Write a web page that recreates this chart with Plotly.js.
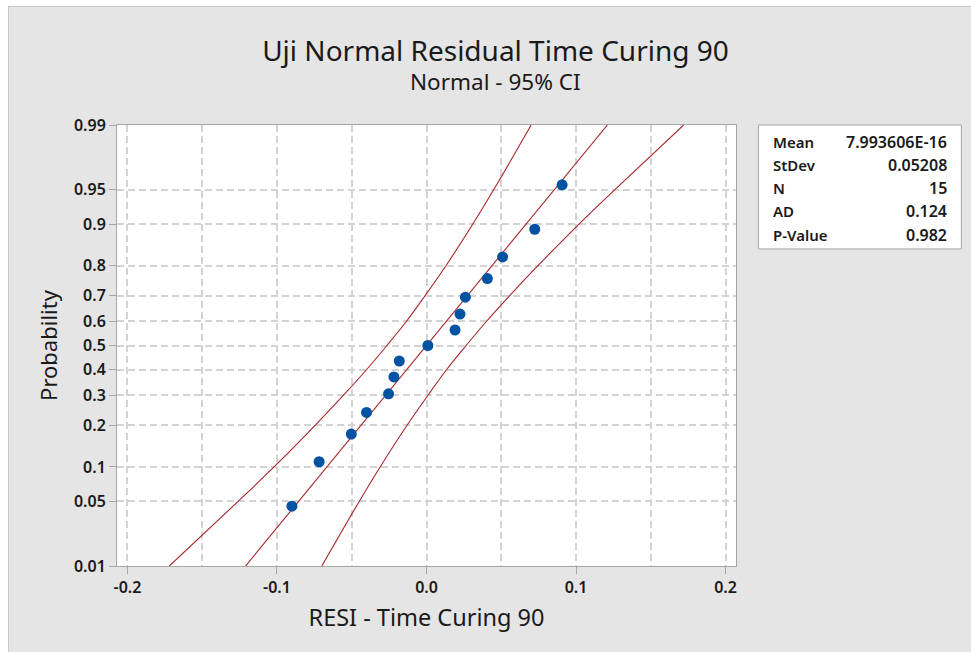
<!DOCTYPE html>
<html>
<head>
<meta charset="utf-8">
<script src="https://cdn.plot.ly/plotly-3.0.1.min.js"></script>
<style>
html, body { margin:0; padding:0; background:#ffffff; }
#chart { position:absolute; left:8px; top:6px; width:962px; height:645px;
         border-left:1px solid #c8c8c8; border-top:1px solid #c8c8c8; }
</style>
</head>
<body>
<div id="chart"></div>
<script>
// ---- data ----
const residuals = [-0.0900, -0.0718, -0.0503, -0.0401, -0.0254, -0.0218, -0.0182, 0.0009,
                   0.0191, 0.0224, 0.0260, 0.0407, 0.0509, 0.0724, 0.0907];
const percentProb = [0.045, 0.110, 0.175, 0.240, 0.305, 0.370, 0.435, 0.500,
                     0.565, 0.630, 0.695, 0.760, 0.825, 0.890, 0.955];

const bandProb = [0.01, 0.05, 0.1, 0.2, 0.3, 0.4, 0.5, 0.6, 0.7, 0.8, 0.9, 0.95, 0.99];
const lowerCI = [-0.172, -0.126, -0.102, -0.0745, -0.0555, -0.040, -0.0265, -0.0135, -0.001, 0.013, 0.031, 0.045, 0.070];
const fitLine = [-0.121, -0.0855, -0.0667, -0.0438, -0.0273, -0.0132, 0.0, 0.0132, 0.0273, 0.0438, 0.0667, 0.0855, 0.121];
const upperCI = [-0.070, -0.045, -0.031, -0.013, 0.001, 0.0135, 0.0265, 0.040, 0.0555, 0.0745, 0.102, 0.126, 0.172];

const yTickProb = [0.01, 0.05, 0.1, 0.2, 0.3, 0.4, 0.5, 0.6, 0.7, 0.8, 0.9, 0.95, 0.99];
const yTickText = ['0.01', '0.05', '0.1', '0.2', '0.3', '0.4', '0.5', '0.6', '0.7', '0.8', '0.9', '0.95', '0.99'];

const statNames = ['Mean', 'StDev', 'N', 'AD', 'P-Value'];
const statValues = ['7.993606E-16', '0.05208', '15', '0.124', '0.982'];

// ---- normal probability scale (inverse normal CDF, Acklam) ----
function probit(p) {
  const a = [-3.969683028665376e+01, 2.209460984245205e+02, -2.759285104469687e+02,
             1.383577518672690e+02, -3.066479806614716e+01, 2.506628277459239e+00];
  const b = [-5.447609879822406e+01, 1.615858368580409e+02, -1.556989798598866e+02,
             6.680131188771972e+01, -1.328068155288572e+01];
  const c = [-7.784894002430293e-03, -3.223964580411365e-01, -2.400758277161838e+00,
             -2.549671010229838e+00, 4.374664141464968e+00, 2.938163982698783e+00];
  const d = [7.784695709041462e-03, 3.224671290700398e-01, 2.445134137142996e+00,
             3.754408661907416e+00];
  const pl = 0.02425, ph = 1 - pl;
  let q, r;
  if (p < pl) {
    q = Math.sqrt(-2 * Math.log(p));
    return (((((c[0]*q+c[1])*q+c[2])*q+c[3])*q+c[4])*q+c[5]) / ((((d[0]*q+d[1])*q+d[2])*q+d[3])*q+1);
  } else if (p <= ph) {
    q = p - 0.5; r = q*q;
    return (((((a[0]*r+a[1])*r+a[2])*r+a[3])*r+a[4])*r+a[5])*q / (((((b[0]*r+b[1])*r+b[2])*r+b[3])*r+b[4])*r+1);
  } else {
    q = Math.sqrt(-2 * Math.log(1 - p));
    return -(((((c[0]*q+c[1])*q+c[2])*q+c[3])*q+c[4])*q+c[5]) / ((((d[0]*q+d[1])*q+d[2])*q+d[3])*q+1);
  }
}

const FONT = 'Noto Sans, Open Sans, DejaVu Sans, sans-serif';
const lineColor = '#a8262a';
const gridColor = '#d3d3d3';
const axisColor = '#a6a6a6';
const textColor = '#1a1a1a';

const bandZ = bandProb.map(probit);

const traces = [
  { x: lowerCI, y: bandZ, type: 'scatter', mode: 'lines', line: { color: lineColor, width: 1.1, shape: 'spline', smoothing: 1 }, hoverinfo: 'skip', showlegend: false },
  { x: fitLine, y: bandZ, type: 'scatter', mode: 'lines', line: { color: lineColor, width: 1.1 }, hoverinfo: 'skip', showlegend: false },
  { x: upperCI, y: bandZ, type: 'scatter', mode: 'lines', line: { color: lineColor, width: 1.1, shape: 'spline', smoothing: 1 }, hoverinfo: 'skip', showlegend: false },
  { x: residuals, y: percentProb.map(probit), type: 'scatter', mode: 'markers',
    marker: { color: '#0052a3', size: 11 }, showlegend: false }
];

// stats box
const boxLeft = 1.0362, boxRight = 1.3641, boxTop = 1.0, boxBottom = 0.719;
const rowY = [0.9619, 0.9094, 0.8568, 0.8043, 0.7515];
const annotations = [
  { text: 'Normal - 95% CI', xref: 'paper', yref: 'paper', x: 0.612, y: 1.098,
    xanchor: 'center', yanchor: 'middle', showarrow: false,
    font: { family: FONT, size: 22.5, color: textColor } }
];
statNames.forEach((n, i) => {
  annotations.push({ text: n, xref: 'paper', yref: 'paper', x: 1.0572, y: rowY[i],
    xanchor: 'left', yanchor: 'middle', showarrow: false,
    font: { family: FONT, size: 15, color: textColor, weight: 600 } });
  annotations.push({ text: statValues[i], xref: 'paper', yref: 'paper', x: 1.3436, y: rowY[i],
    xanchor: 'right', yanchor: 'middle', showarrow: false,
    font: { family: FONT, size: 16, color: textColor, weight: 600 } });
});

const layout = {
  width: 962, height: 645,
  paper_bgcolor: '#e5e5e5', plot_bgcolor: '#ffffff',
  margin: { l: 108, r: 235, t: 118, b: 86 },
  font: { family: FONT, color: textColor },
  title: { text: 'Uji Normal Residual Time Curing 90', xref: 'container', yref: 'container',
           x: 0.5057, y: 0.932, xanchor: 'center', yanchor: 'middle',
           font: { family: FONT, size: 28, color: textColor } },
  xaxis: {
    range: [-0.207, 0.207], tickvals: [-0.2, -0.1, 0, 0.1, 0.2],
    ticktext: ['-0.2', '-0.1', '0.0', '0.1', '0.2'],
    ticks: 'outside', ticklen: 7, tickcolor: axisColor, tickwidth: 1,
    showline: true, linecolor: axisColor, linewidth: 1, mirror: true,
    showgrid: true, gridcolor: gridColor, griddash: '7px,4px', gridwidth: 2,
    minor: { dtick: 0.05, tick0: 0, showgrid: true, gridcolor: gridColor, griddash: '7px,4px', gridwidth: 2, ticks: '' },
    zeroline: false,
    tickfont: { family: FONT, size: 16, color: textColor, weight: 600 },
    title: { text: 'RESI - Time Curing 90', standoff: 12, font: { family: FONT, size: 23.5, color: textColor } }
  },
  yaxis: {
    range: [probit(0.01), probit(0.99)],
    tickvals: yTickProb.map(probit), ticktext: yTickText,
    ticks: 'outside', ticklen: 7, tickcolor: axisColor, tickwidth: 1,
    showline: true, linecolor: axisColor, linewidth: 1, mirror: true,
    showgrid: true, gridcolor: gridColor, griddash: '7px,4px', gridwidth: 2,
    zeroline: false,
    tickfont: { family: FONT, size: 16, color: textColor, weight: 600 },
    title: { text: 'Probability', standoff: 10, font: { family: FONT, size: 22, color: textColor } }
  },
  shapes: [
    { type: 'rect', xref: 'paper', yref: 'paper', x0: boxLeft, x1: boxRight, y0: boxBottom, y1: boxTop,
      fillcolor: '#ffffff', line: { color: axisColor, width: 1 }, layer: 'below' }
  ],
  annotations: annotations
};

Plotly.newPlot('chart', traces, layout, { displayModeBar: false, staticPlot: true });
</script>
</body>
</html>
